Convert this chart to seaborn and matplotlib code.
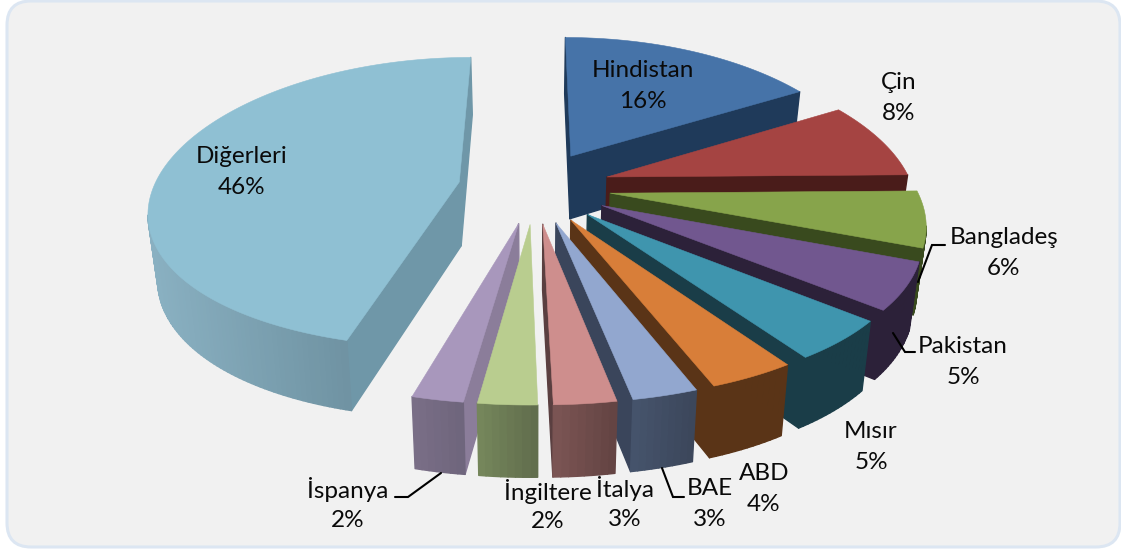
import numpy as np
import matplotlib
matplotlib.use("Agg")
import matplotlib.pyplot as plt
from matplotlib.patches import FancyBboxPatch
from matplotlib.colors import to_rgb
import seaborn as sns

countries = ["Hindistan", "Çin", "Bangladeş", "Pakistan", "Mısır", "ABD", "BAE",
             "İtalya", "İngiltere", "İspanya", "Diğerleri"]
# estimated unrounded shares (labels show them rounded)
shares = [16.45, 8.3, 6.1, 5.2, 4.55, 3.7, 2.75, 2.6, 2.45, 2.15, 45.75]

top_colors = ["#4673A8", "#A54442", "#87A44B", "#71578F", "#3F95AE", "#D87E39",
              "#92A7CF", "#CE8E8D", "#B9CD8F", "#A897BC", "#8FC0D3"]
radial_colors = ["#1F3A5A", "#4A1C1A", "#394A1E", "#2C2139", "#1A3D48", "#5A3417",
                 "#3A455B", "#5A3F40", "#74855A", "#8B7D9A", "#6F97A8"]
wall_light = ["#1F3A5A", "#4A1C1A", "#394A1E", "#2C2139", "#1A3D48", "#5A3417",
              "#46546C", "#7C5554", "#76885C", "#7A6F87", "#8AB1C2"]
wall_dark = ["#1F3A5A", "#4A1C1A", "#394A1E", "#2C2139", "#1A3D48", "#5A3417",
             "#3B465A", "#624342", "#606C4C", "#625A70", "#5F808F"]

label_xy = [(643, 86), (899, 98), (1004, 253), (963, 362), (871, 447), (764, 489),
            (710, 504), (625, 504), (548, 506.5), (348, 505), (242, 172)]
leaders = [[(945, 245), (932, 245), (918, 282)],
           [(915, 352), (905, 352), (893, 333)],
           [(684, 497), (673, 497), (662, 468)],
           [(395, 497), (408, 497), (441, 473)]]

# projection parameters of the tilted pie (pixels)
CX, CY = 534.5, 186.8
RADIUS = 300.0
EX, EY = 75.0, 76.0
SX, KY = 1.018, 0.478
AX_P, AY_P = 0.0006, 0.00047

sns.set_theme(style="white")
plt.rcParams["font.family"] = ["Lato", "DejaVu Sans"]
top_pal = sns.color_palette(top_colors)
rad_pal = sns.color_palette(radial_colors)

fig = plt.figure(figsize=(11.21, 5.52), dpi=100, facecolor="white")
ax = fig.add_axes([0, 0, 1, 1])
ax.set_xlim(0, 1121)
ax.set_ylim(552, 0)
ax.axis("off")

ax.add_patch(FancyBboxPatch((7 + 24, 1 + 24), 1120 - 7 - 48, 547 - 1 - 48,
                            boxstyle="round,pad=24", fc="#F1F1F1", ec="#DCE6F2", lw=2.2))


def project(X, Y):
    x = CX + SX * X / (1 + AX_P * Y)
    y = CY - KY * Y / (1 + AY_P * Y)
    return x, y


def drop(x, y, Y):
    d = 64 - 0.022 * Y
    return CX + (x - CX) * 0.975, y + d


def lerp(a, b, t):
    a, b = np.array(to_rgb(a)), np.array(to_rgb(b))
    return tuple(a + (b - a) * t)


total = sum(shares)
edges = np.cumsum([0] + shares) / total * 2 * np.pi
slices = []
for i, (s, e) in enumerate(zip(edges[:-1], edges[1:])):
    m = (s + e) / 2
    tipX, tipY = EX * np.sin(m), EY * np.cos(m)
    th = np.linspace(s, e, max(4, int((e - s) * 60)))
    Xs = np.r_[tipX, tipX + RADIUS * np.sin(th)]
    Ys = np.r_[tipY, tipY + RADIUS * np.cos(th)]
    slices.append((tipY, i, Xs, Ys))

for tipY, i, Xs, Ys in sorted(slices, key=lambda t: -t[0]):
    px, py = project(Xs, Ys)
    bx, by = drop(px, py, Ys)
    n = len(px)
    faces = []
    for a in range(n):
        b = (a + 1) % n
        if px[b] - px[a] >= 0:
            continue
        is_radial = (a == 0) or (b == 0)
        if is_radial:
            col = rad_pal[i]
        else:
            t = (px.max() - 0.5 * (px[a] + px[b])) / max(px.max() - px[1:].min(), 1)
            col = lerp(wall_dark[i], wall_light[i], t)
        poly = [(px[a], py[a]), (px[b], py[b]), (bx[b], by[b]), (bx[a], by[a])]
        faces.append((0 if is_radial else 1, 0.5 * (py[a] + py[b]), poly, col))
    for _, _, poly, col in sorted(faces, key=lambda f: (f[0], f[1])):
        ax.fill(*zip(*poly), fc=col, ec=col, lw=1.0, joinstyle="round")
    ax.fill(px, py, fc=top_pal[i], ec=top_pal[i], lw=0.4)

for name, val, (x, y) in zip(countries, shares, label_xy):
    ax.text(x, y - 15.5, name, ha="center", va="center", fontsize=17.5, color="#0A0A0A")
    ax.text(x, y + 15.5, f"{round(val)}%", ha="center", va="center", fontsize=17.5, color="#0A0A0A")

for pts in leaders:
    ax.plot(*zip(*pts), color="black", lw=1.5, solid_joinstyle="miter")

fig.savefig("out.png", dpi=100, facecolor="white")
